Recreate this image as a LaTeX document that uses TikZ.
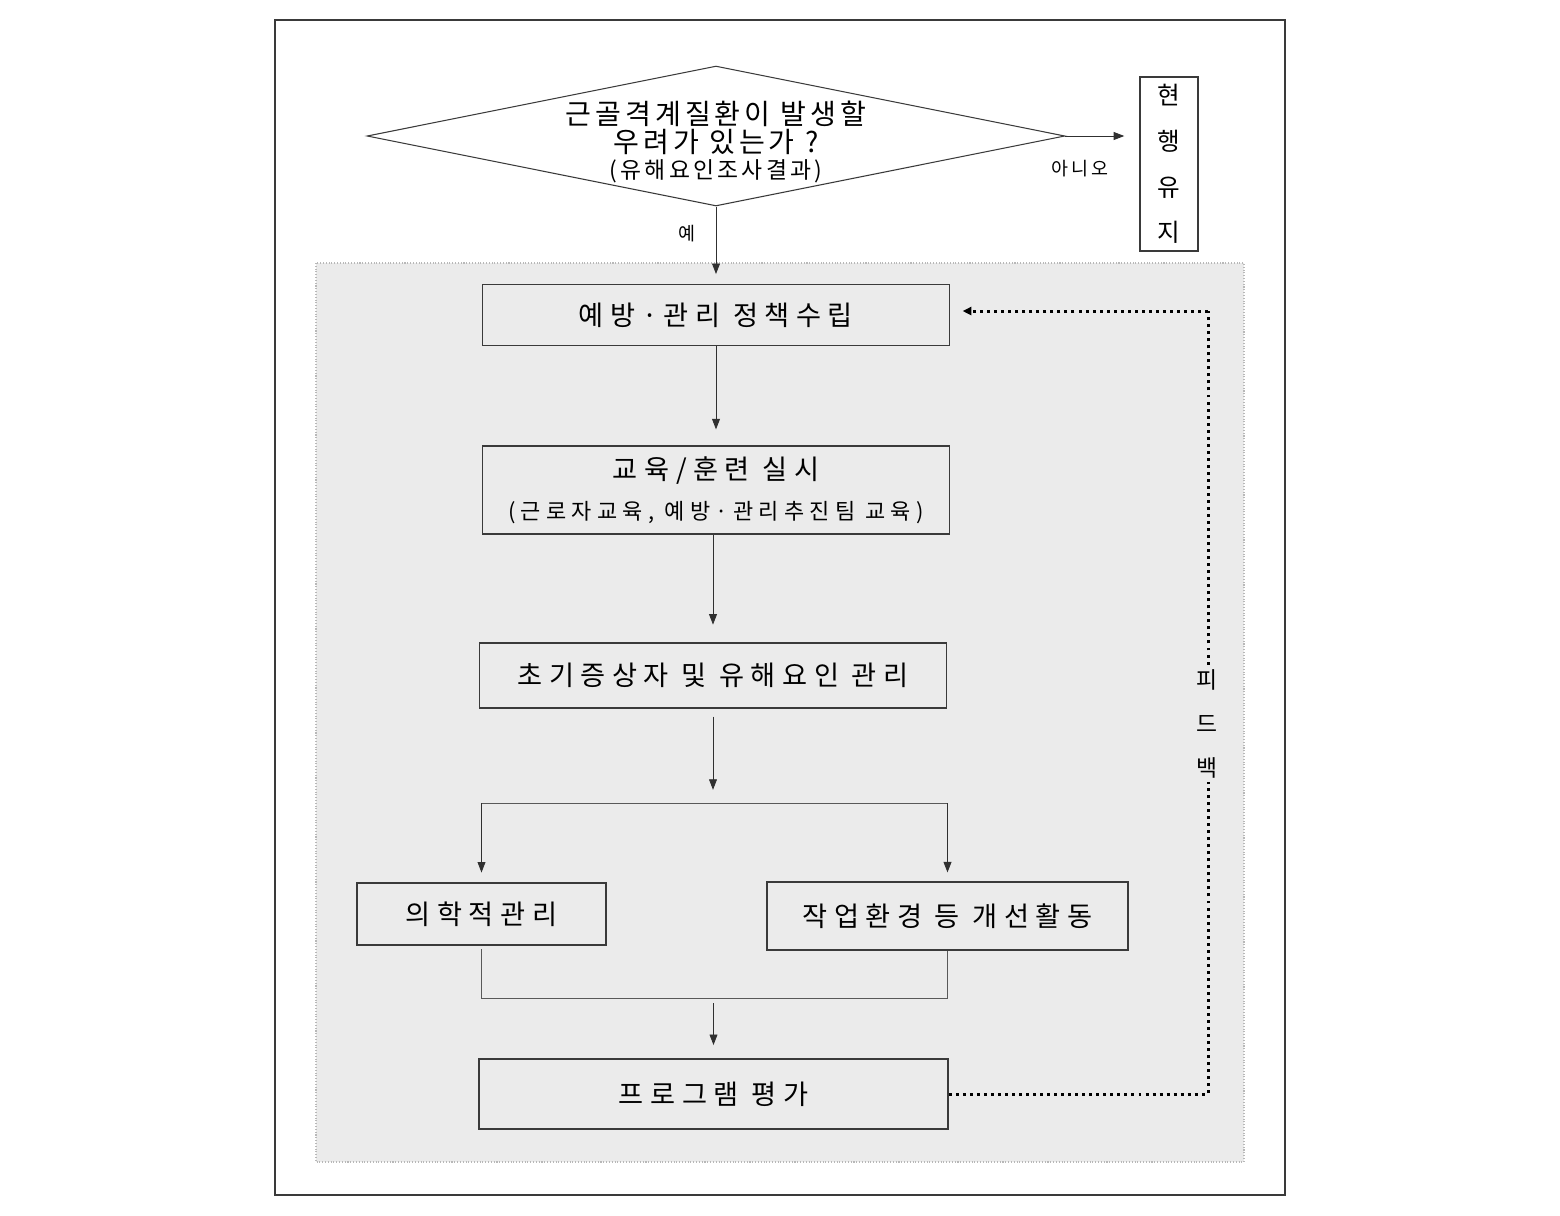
\documentclass[tikz,border=0pt]{standalone}
\usepackage{fontspec}
\setmainfont{Noto Sans CJK KR}
\newfontfamily\krwide[LetterSpace=24]{Noto Sans CJK KR}
\newfontfamily\krnarrow[LetterSpace=14]{Noto Sans CJK KR}
\usepackage{xcolor}
\usepackage{tikz}
\usetikzlibrary{arrows.meta,shapes.geometric}
\definecolor{edge}{HTML}{3A3A3A}
\definecolor{wire}{HTML}{303030}
\definecolor{panel}{HTML}{EBEBEB}
\definecolor{zoneline}{HTML}{B8B8B8}
\tikzset{
  frame/.style={draw=edge, line width=1.1pt},
  zone/.style={fill=panel, draw=zoneline, densely dotted, line width=0.6pt},
  decision/.style={diamond, draw=edge, line width=0.6pt, fill=white, inner sep=0pt,
    minimum width=13.96cm, minimum height=2.8cm},
  stepbox/.style={rectangle, draw=edge, line width=0.9pt, fill=panel, inner sep=0pt,
    align=center, font=\krwide\fontsize{15.5}{18}\selectfont},
  keepbox/.style={rectangle, draw=edge, line width=0.9pt, fill=white, inner sep=0pt,
    align=center, font=\fontsize{14}{26}\selectfont},
  flow/.style={-{Triangle[length=6pt,width=4.5pt]}, draw=wire, line width=0.5pt},
  link/.style={draw=wire!80, line width=0.5pt},
  feed/.style={draw=black, line width=1.7pt, dash pattern=on 1.7pt off 2.3pt},
  lab/.style={text=black, font=\krnarrow\fontsize{10.5}{12}\selectfont}
}
\begin{document}
\begin{tikzpicture}[x=0.02cm, y=-0.02cm]
  \useasboundingbox (0,0) rectangle (1560,1215);
  \draw[frame] (275,20) rectangle (1285,1195);
  \draw[zone] (316,263) rectangle (1244,1162);

  % decision
  \node[decision, label={[align=center, yshift=-3.5pt, font=\krnarrow\fontsize{16}{16}\selectfont]center:{근골격계질환이 발생할\\우려가 있는가 ?\\[-1pt]{\fontsize{13}{14}\selectfont (유해요인조사결과)}}}] (ask) at (716,136) {};
  \node[keepbox, minimum width=1.16cm, minimum height=3.48cm] (keep) at (1169,164) {현\\행\\유\\지};
  \draw[flow, shorten >=8.5pt] (ask.east) -- (ask.east -| keep.west);
  \node[lab] (no) at (1080,169) {아니오};

  % main steps
  \node[stepbox, minimum width=9.34cm, minimum height=1.22cm] (plan) at (716,315) {예방·관리 정책수립};
  \node[stepbox, minimum width=9.34cm, minimum height=1.76cm] (edu) at (716,490)
    {교육/훈련 실시\\[5pt]{\fontsize{12.5}{14}\selectfont (근로자교육, 예방·관리추진팀 교육)}};
  \node[stepbox, minimum width=9.34cm, minimum height=1.30cm] (early) at (713,675.5) {초기증상자 및 유해요인 관리};
  \node[stepbox, minimum width=4.98cm, minimum height=1.24cm] (med) at (481.5,914) {의학적관리};
  \node[stepbox, minimum width=7.22cm, minimum height=1.36cm] (env) at (947.5,916) {작업환경 등 개선활동};
  \node[stepbox, minimum width=9.38cm, minimum height=1.40cm] (eval) at (713.5,1094) {프로그램 평가};

  \draw[flow, shorten >=5.5pt] (ask.south) -- (plan.north) node[lab, pos=0.35, left=8pt] (yes) {예};
  \draw[flow, shorten >=9pt] (plan.south) -- (edu.north);
  \draw[flow, shorten >=10pt] (early.north |- edu.south) -- (early.north);

  % split
  \coordinate (split) at (713,803);
  \coordinate (splitL) at (481.5,803);
  \coordinate (splitR) at (947.5,803);
  \draw[flow, shorten <=4.5pt, shorten >=7.5pt] (early.south) -- (split);
  \draw[link] (splitL) -- (splitR);
  \draw[flow, shorten >=5.5pt] (splitL) -- (med.north);
  \draw[flow, shorten >=5pt] (splitR) -- (env.north);

  % join
  \coordinate (joinL) at (481.5,998);
  \coordinate (joinR) at (947.5,998);
  \coordinate (join) at (713.5,998);
  \draw[link, shorten <=2pt] (med.south) -- (joinL) -- (joinR) -- (env.south);
  \draw[flow, shorten <=3pt, shorten >=7.5pt] (join) -- (eval.north);

  % feedback
  \coordinate (backB) at (1208,1094);
  \coordinate (backT) at (1208,311);
  \draw[feed] (eval.east) -- (backB) -- (backT);
  \draw[feed, -{Triangle[length=5pt,width=4.5pt]}, shorten >=7pt] (backT) -- (backT -| plan.east);
  \node[fill=panel, inner sep=2pt, align=center, font=\fontsize{13}{25}\selectfont] (fbk) at (1207,724) {피\\드\\백};
\end{tikzpicture}
\end{document}
